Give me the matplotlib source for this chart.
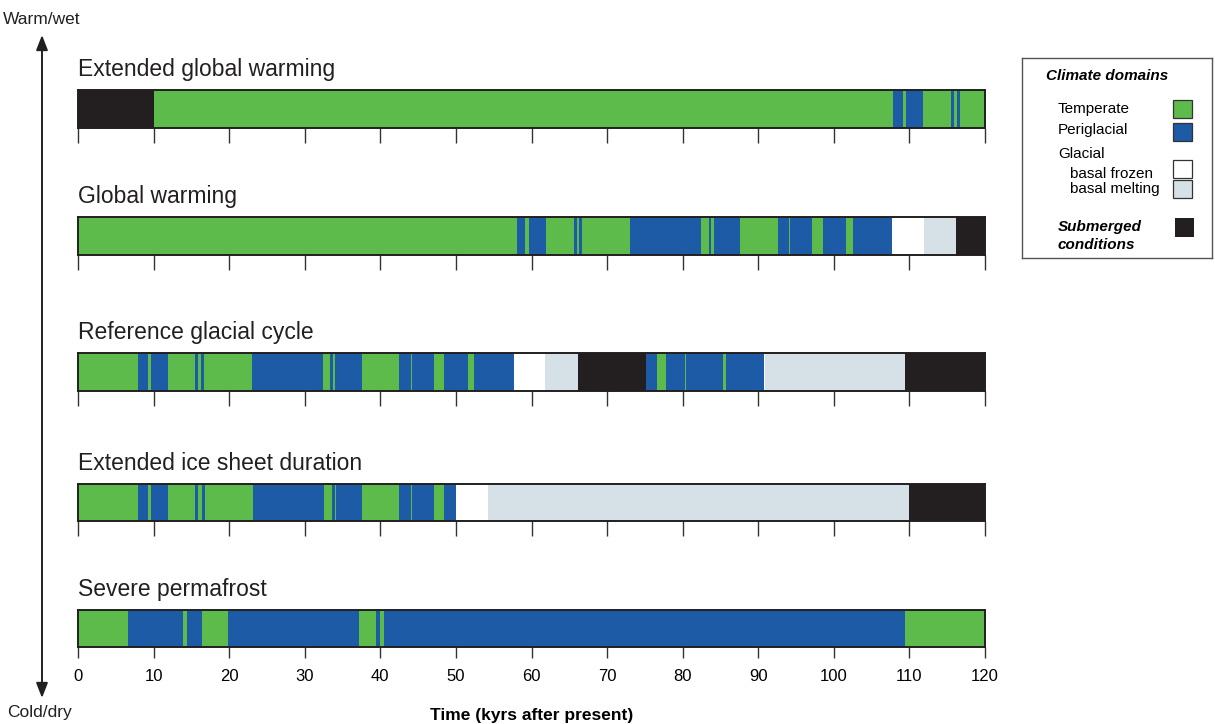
import matplotlib.pyplot as plt
from matplotlib.patches import Rectangle, FancyArrowPatch

plt.rcParams['font.family'] = ['Liberation Sans', 'DejaVu Sans']

# domain codes: T temperate, P periglacial, F glacial basal frozen,
# M glacial basal melting, S submerged
domain_colors = {'T': '#5cbb4a', 'P': '#1d5ba6', 'F': '#ffffff',
                 'M': '#d5e1e7', 'S': '#231f20'}

scenario_names = ['Extended global warming', 'Global warming',
                  'Reference glacial cycle', 'Extended ice sheet duration',
                  'Severe permafrost']

ext_warming_edges = [0, 10, 107.8, 109.2, 109.6, 111.8, 115.5, 115.9, 116.3,
                     116.7, 120]
ext_warming_domains = 'STPTPTPTPT'

warming_edges = [0, 58.1, 59.2, 59.7, 61.9, 65.6, 66.0, 66.3, 66.7, 73.0,
                 82.4, 83.5, 83.7, 84.1, 87.6, 92.6, 94.1, 94.2, 97.1, 98.6,
                 101.6, 102.5, 107.7, 111.9, 116.2, 120]
warming_domains = 'TPTPTPTPTPTPTPTPTPTPTPFMS'

reference_edges = [0, 7.9, 9.3, 9.7, 11.9, 15.5, 15.9, 16.3, 16.7, 23.0,
                   32.4, 33.3, 33.7, 34.0, 37.6, 42.5, 44.1, 44.2, 47.1, 48.4,
                   51.6, 52.4, 57.7, 61.8, 66.2, 75.2, 76.6, 77.8, 80.3, 80.4,
                   85.3, 85.7, 90.8, 90.9, 109.4, 120]
reference_domains = 'TPTPTPTPTPTPTPTPTPTPTPFMSPTPTPTPFMS'

ext_ice_edges = [0, 8.0, 9.3, 9.7, 11.9, 15.5, 15.9, 16.4, 16.8, 23.1,
                 32.5, 33.6, 34.0, 34.1, 37.6, 42.5, 44.1, 44.2, 47.1, 48.4,
                 50.0, 54.2, 110, 120]
ext_ice_domains = 'TPTPTPTPTPTPTPTPTPTPFMS'

permafrost_edges = [0, 6.6, 13.9, 14.4, 16.4, 19.8, 37.2, 39.4, 40.0, 40.5,
                    109.4, 120]
permafrost_domains = 'TPTPTPTPTPT'

scenario_edges = [ext_warming_edges, warming_edges, reference_edges,
                  ext_ice_edges, permafrost_edges]
scenario_domains = [ext_warming_domains, warming_domains, reference_domains,
                    ext_ice_domains, permafrost_domains]

time_ticks = list(range(0, 121, 10))

W, H = 1215, 724
fig = plt.figure(figsize=(W / 100, H / 100), dpi=100)

# bar rows in pixels (top, bottom)
rows = [(90, 128), (217, 255), (353, 391), (484, 521), (610, 647)]
x0, x1 = 78, 985

for i, (name, edges, doms) in enumerate(zip(scenario_names, scenario_edges,
                                            scenario_domains)):
    top, bot = rows[i]
    ax = fig.add_axes([x0 / W, 1 - bot / H, (x1 - x0) / W, (bot - top) / H])
    lefts = edges[:-1]
    widths = [b - a for a, b in zip(edges[:-1], edges[1:])]
    ax.barh(0.5, widths, left=lefts, height=1.0,
            color=[domain_colors[d] for d in doms], linewidth=0)
    ax.set_xlim(0, 120)
    ax.set_ylim(0, 1)
    ax.set_yticks([])
    ax.set_xticks(time_ticks)
    for s in ax.spines.values():
        s.set_linewidth(1.4)
        s.set_color('#231f20')
    last = i == len(scenario_names) - 1
    ax.tick_params(axis='x', direction='out', length=8 if last else 11,
                   width=1.0, color='#333333', labelsize=12,
                   labelbottom=last, pad=8)
    ax.annotate(name, xy=(0, 1), xycoords='axes fraction', xytext=(0, 10),
                textcoords='offset points', ha='left', va='baseline',
                fontsize=16.5, color='#231f20')
    if last:
        ax.set_xlabel('Time (kyrs after present)', fontsize=12.5,
                      fontweight='bold', labelpad=17)

# warm/wet to cold/dry arrow
fig.add_artist(FancyArrowPatch((42 / W, 1 - 698 / H), (42 / W, 1 - 35 / H),
                               transform=fig.transFigure,
                               arrowstyle='<|-|>,head_length=9,head_width=3.5',
                               color='#231f20', lw=1.4,
                               shrinkA=0, shrinkB=0))
fig.text(42 / W, 1 - 20 / H, 'Warm/wet', ha='center', va='center',
         fontsize=12.5, color='#231f20')
fig.text(39 / W, 1 - 713 / H, 'Cold/dry', ha='center', va='center',
         fontsize=12.5, color='#231f20')

# legend box
lx0, ly0, lx1, ly1 = 1022, 58, 1212, 258
lax = fig.add_axes([lx0 / W, 1 - ly1 / H, (lx1 - lx0) / W, (ly1 - ly0) / H])
lax.set_xlim(0, lx1 - lx0)
lax.set_ylim(ly1 - ly0, 0)
lax.set_xticks([])
lax.set_yticks([])
for s in lax.spines.values():
    s.set_linewidth(1.0)
    s.set_color('#555555')

lax.text(85, 18, 'Climate domains', ha='center', va='center', fontsize=11,
         fontweight='bold', style='italic')

legend_items = [('Temperate', 'T', 51, 42, 0),
                ('Periglacial', 'P', 72, 65, 0),
                ('basal frozen', 'F', 116, 102, 12),
                ('basal melting', 'M', 131, 122, 12)]
for label, code, ty, sy, indent in legend_items:
    lax.text(36 + indent, ty, label, ha='left', va='center', fontsize=11)
    lax.add_patch(Rectangle((151, sy), 19, 18,
                            facecolor=domain_colors[code],
                            edgecolor='#333333', lw=0.9))
lax.text(36, 96, 'Glacial', ha='left', va='center', fontsize=11)
lax.text(36, 169, 'Submerged', ha='left', va='center', fontsize=11,
         fontweight='bold', style='italic')
lax.text(36, 187, 'conditions', ha='left', va='center', fontsize=11,
         fontweight='bold', style='italic')
lax.add_patch(Rectangle((153, 160), 19, 19, facecolor=domain_colors['S'],
                        edgecolor='none'))

fig.savefig('out.png', dpi=100)
